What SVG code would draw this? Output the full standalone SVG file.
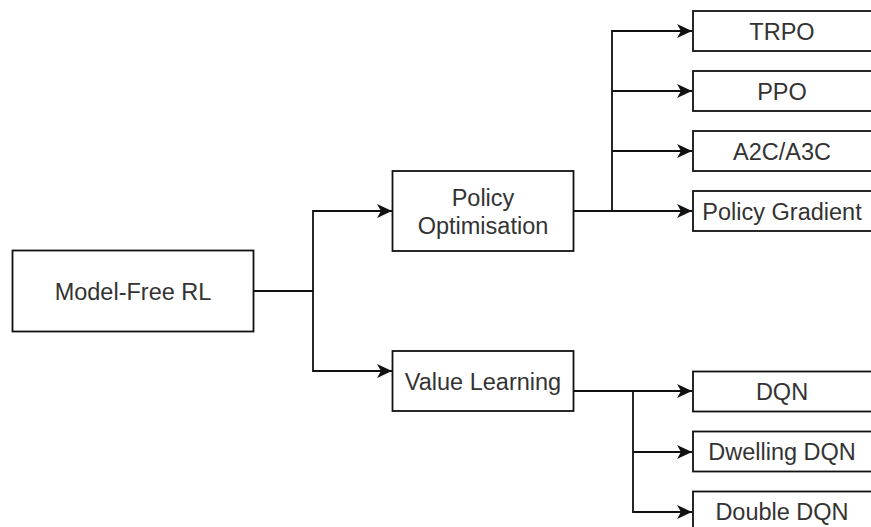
<svg xmlns="http://www.w3.org/2000/svg" width="871" height="527" viewBox="0 0 871 527">
  <style>
    .box { fill: #ffffff; stroke: #111111; stroke-width: 1.8; }
    .lbl { font-family: "Liberation Sans", Arial, Helvetica, sans-serif; font-size: 23.5px; fill: #333333; text-anchor: middle; }
    .edge { fill: none; stroke: #111111; stroke-width: 1.8; marker-end: url(#arrow); }
  </style>
  <defs>
    <marker id="arrow" markerUnits="userSpaceOnUse" markerWidth="16" markerHeight="15" refX="15" refY="7" orient="auto" overflow="visible">
      <path d="M0,0 L15,7 L0,14 L4,7 Z" fill="#111111"/>
    </marker>
  </defs>
  <rect width="871" height="527" fill="#ffffff"/>

  <g id="connectors">
    <path class="edge" d="M253.5,291 H313 V211 H392"/>
    <path class="edge" d="M313,291 V371 H392"/>
    <path class="edge" d="M574,211 H612 V31 H692"/>
    <path class="edge" d="M612,91 H692"/>
    <path class="edge" d="M612,151 H692"/>
    <path class="edge" d="M574,211 H692"/>
    <path class="edge" d="M574,391 H692"/>
    <path class="edge" d="M633,391 V512 H692"/>
    <path class="edge" d="M633,452 H692"/>
  </g>

  <g id="model-free-rl">
    <rect class="box" x="12.5" y="250.5" width="241" height="81"/>
    <text class="lbl" x="133" y="299.5">Model-Free RL</text>
  </g>
  <g id="policy-optimisation">
    <rect class="box" x="392.5" y="171" width="181" height="80"/>
    <text class="lbl" x="483" y="205.5">Policy</text>
    <text class="lbl" x="483" y="234">Optimisation</text>
  </g>
  <g id="value-learning">
    <rect class="box" x="392.5" y="351" width="181" height="60"/>
    <text class="lbl" x="483" y="390">Value Learning</text>
  </g>
  <g id="trpo">
    <rect class="box" x="693" y="11" width="179" height="40"/>
    <text class="lbl" x="782" y="39.5">TRPO</text>
  </g>
  <g id="ppo">
    <rect class="box" x="693" y="71" width="179" height="40"/>
    <text class="lbl" x="782" y="99.5">PPO</text>
  </g>
  <g id="a2c-a3c">
    <rect class="box" x="693" y="131" width="179" height="40"/>
    <text class="lbl" x="782" y="159.5">A2C/A3C</text>
  </g>
  <g id="policy-gradient">
    <rect class="box" x="693" y="191" width="179" height="40"/>
    <text class="lbl" x="782" y="219.5">Policy Gradient</text>
  </g>
  <g id="dqn">
    <rect class="box" x="693" y="371.5" width="179" height="40"/>
    <text class="lbl" x="782" y="400">DQN</text>
  </g>
  <g id="dwelling-dqn">
    <rect class="box" x="693" y="431.5" width="179" height="40"/>
    <text class="lbl" x="782" y="460">Dwelling DQN</text>
  </g>
  <g id="double-dqn">
    <rect class="box" x="693" y="491.5" width="179" height="40"/>
    <text class="lbl" x="782" y="520">Double DQN</text>
  </g>
</svg>
